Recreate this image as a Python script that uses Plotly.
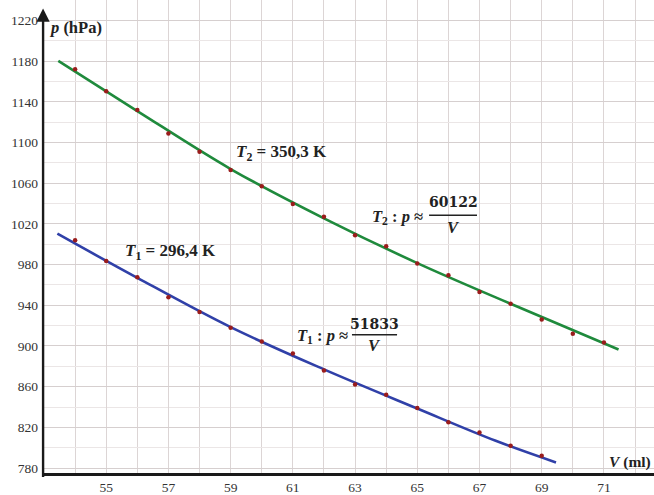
import plotly.graph_objects as go

# Measured points (V in ml, p in hPa)
t1_volume = [54, 55, 56, 57, 58, 59, 60, 61, 62, 63, 64, 65, 66, 67, 68, 69]
t1_pressure = [1004, 983.5, 967.5, 948, 933.5, 918, 904.5, 892.5, 876, 862, 852, 839, 825, 815, 802, 792]

t2_volume = [54, 55, 56, 57, 58, 59, 60, 61, 62, 63, 64, 65, 66, 67, 68, 69, 70, 71]
t2_pressure = [1172, 1150.5, 1132, 1109, 1091, 1073, 1057, 1039.5, 1027, 1009, 998, 981, 969.5, 953,
               941.5, 926, 912, 903.5]

# Hyperbolic trend curves (anchor values)
t1_curve_volume = [53.43, 56, 59, 62, 65, 67.5, 69.46]
t1_curve_pressure = [1010.4, 967, 918.5, 877, 838.5, 807, 785.5]

t2_curve_volume = [53.46, 56, 59, 62, 65, 68, 71.47]
t2_curve_pressure = [1180.3, 1131, 1074, 1025.5, 981.5, 941.5, 896.5]

# Axis ticks
y_tick_values = [780, 820, 860, 900, 940, 980, 1020, 1060, 1100, 1140, 1180, 1220]
y_minor_values = [800, 840, 880, 920, 960, 1000, 1040, 1080, 1120, 1160, 1200, 1240]
x_tick_values = [55, 57, 59, 61, 63, 65, 67, 69, 71]
x_tick_labels = ["55", "57", "59", "61", "63", "65", "67", "69", "71"]
x_minor_values = [54, 56, 58, 60, 62, 64, 66, 68, 70, 72]

T1_LABEL = "<b><i>T</i><sub>1</sub> = 296,4 K</b>"
T2_LABEL = "<b><i>T</i><sub>2</sub> = 350,3 K</b>"

SERIF = "Liberation Serif"
GREEN = "#1f8a3c"
BLUE = "#3040a8"
DOT = "#9a1c1c"

fig = go.Figure()

fig.add_trace(go.Scatter(x=t2_curve_volume, y=t2_curve_pressure, mode="lines",
                         line=dict(color=GREEN, width=2.6, shape="spline", smoothing=1.0),
                         hoverinfo="skip"))
fig.add_trace(go.Scatter(x=t1_curve_volume, y=t1_curve_pressure, mode="lines",
                         line=dict(color=BLUE, width=2.6, shape="spline", smoothing=1.0),
                         hoverinfo="skip"))
fig.add_trace(go.Scatter(x=t2_volume, y=t2_pressure, mode="markers",
                         marker=dict(color=DOT, size=4.5, symbol="circle")))
fig.add_trace(go.Scatter(x=t1_volume, y=t1_pressure, mode="markers",
                         marker=dict(color=DOT, size=4.5, symbol="circle")))

fig.update_layout(
    width=654, height=495,
    margin=dict(l=44, r=0, t=0, b=16),
    paper_bgcolor="white", plot_bgcolor="white",
    showlegend=False,
    font=dict(family=SERIF, color="#222222", size=13),
    xaxis=dict(range=[53, 72.61], tickvals=x_tick_values, ticktext=x_tick_labels,
               showgrid=True, gridcolor="#dcd5d5", gridwidth=1,
               minor=dict(tickvals=x_minor_values, showgrid=True, gridcolor="#dcd5d5", gridwidth=1),
               showline=True, linecolor="#1a1a1a", linewidth=2.5,
               zeroline=False, ticks="", tickfont=dict(family=SERIF, size=13.5, color="#333333")),
    yaxis=dict(range=[775.1, 1240.2], tickvals=y_tick_values,
               showgrid=True, gridcolor="#d6cfcf", gridwidth=1,
               minor=dict(tickvals=y_minor_values, showgrid=True, gridcolor="#ebe6e6", gridwidth=1),
               showline=False, zeroline=False, ticks="",
               ticklabelstandoff=5,
               tickfont=dict(family=SERIF, size=13.5, color="#333333")),
)

# Vertical axis with arrow head
fig.add_annotation(xref="paper", yref="paper", x=-0.0015, y=0.982, ax=0, ay=470,
                   text="", showarrow=True, arrowhead=2, arrowsize=1.1,
                   arrowwidth=2.4, arrowcolor="#1a1a1a")

# Axis titles
fig.add_annotation(xref="x", yref="y", x=53.1, y=1213, xanchor="left", yanchor="middle",
                   text="<b><i>p</i> (hPa)</b>", showarrow=False,
                   font=dict(family=SERIF, size=16.5, color="#222222"))
fig.add_annotation(xref="paper", yref="y", x=0.998, y=786, xanchor="right", yanchor="middle",
                   text="<b><i>V</i> (ml)</b>", showarrow=False,
                   font=dict(family=SERIF, size=15.5, color="#222222"))

# Temperature labels
fig.add_annotation(xref="x", yref="y", x=60.65, y=1090, text=T2_LABEL, showarrow=False,
                   font=dict(family=SERIF, size=17, color="#222222"))
fig.add_annotation(xref="x", yref="y", x=57.08, y=992.6, text=T1_LABEL, showarrow=False,
                   font=dict(family=SERIF, size=17, color="#222222"))

# Fit equations written as fractions
def add_fit_label(idx, xl, yl, xn, yn, yv, bar_x0, bar_x1, bar_y, numerator):
    fig.add_annotation(xref="x", yref="y", x=xl, y=yl, showarrow=False,
                       text=f"<b><i>T</i><sub>{idx}</sub> : <i>p</i> ≈</b>",
                       font=dict(family=SERIF, size=16.5, color="#222222"))
    fig.add_annotation(xref="x", yref="y", x=xn, y=yn, showarrow=False,
                       text=f"<b>{numerator}</b>",
                       font=dict(family="DejaVu Serif", size=14, color="#222222"))
    fig.add_annotation(xref="x", yref="y", x=xn, y=yv, showarrow=False,
                       text="<b><i>V</i></b>",
                       font=dict(family=SERIF, size=16.5, color="#222222"))
    fig.add_shape(type="line", xref="x", yref="y", x0=bar_x0, x1=bar_x1, y0=bar_y, y1=bar_y,
                  line=dict(color="#222222", width=1.5))

add_fit_label(2, 64.38, 1026.6, 66.15, 1041.2, 1016.9, 65.38, 66.92, 1028.5, "60122")
add_fit_label(1, 61.95, 910.0, 63.61, 921.8, 900.4, 62.9, 64.35, 911.1, "51833")

fig.write_html("out.html")
